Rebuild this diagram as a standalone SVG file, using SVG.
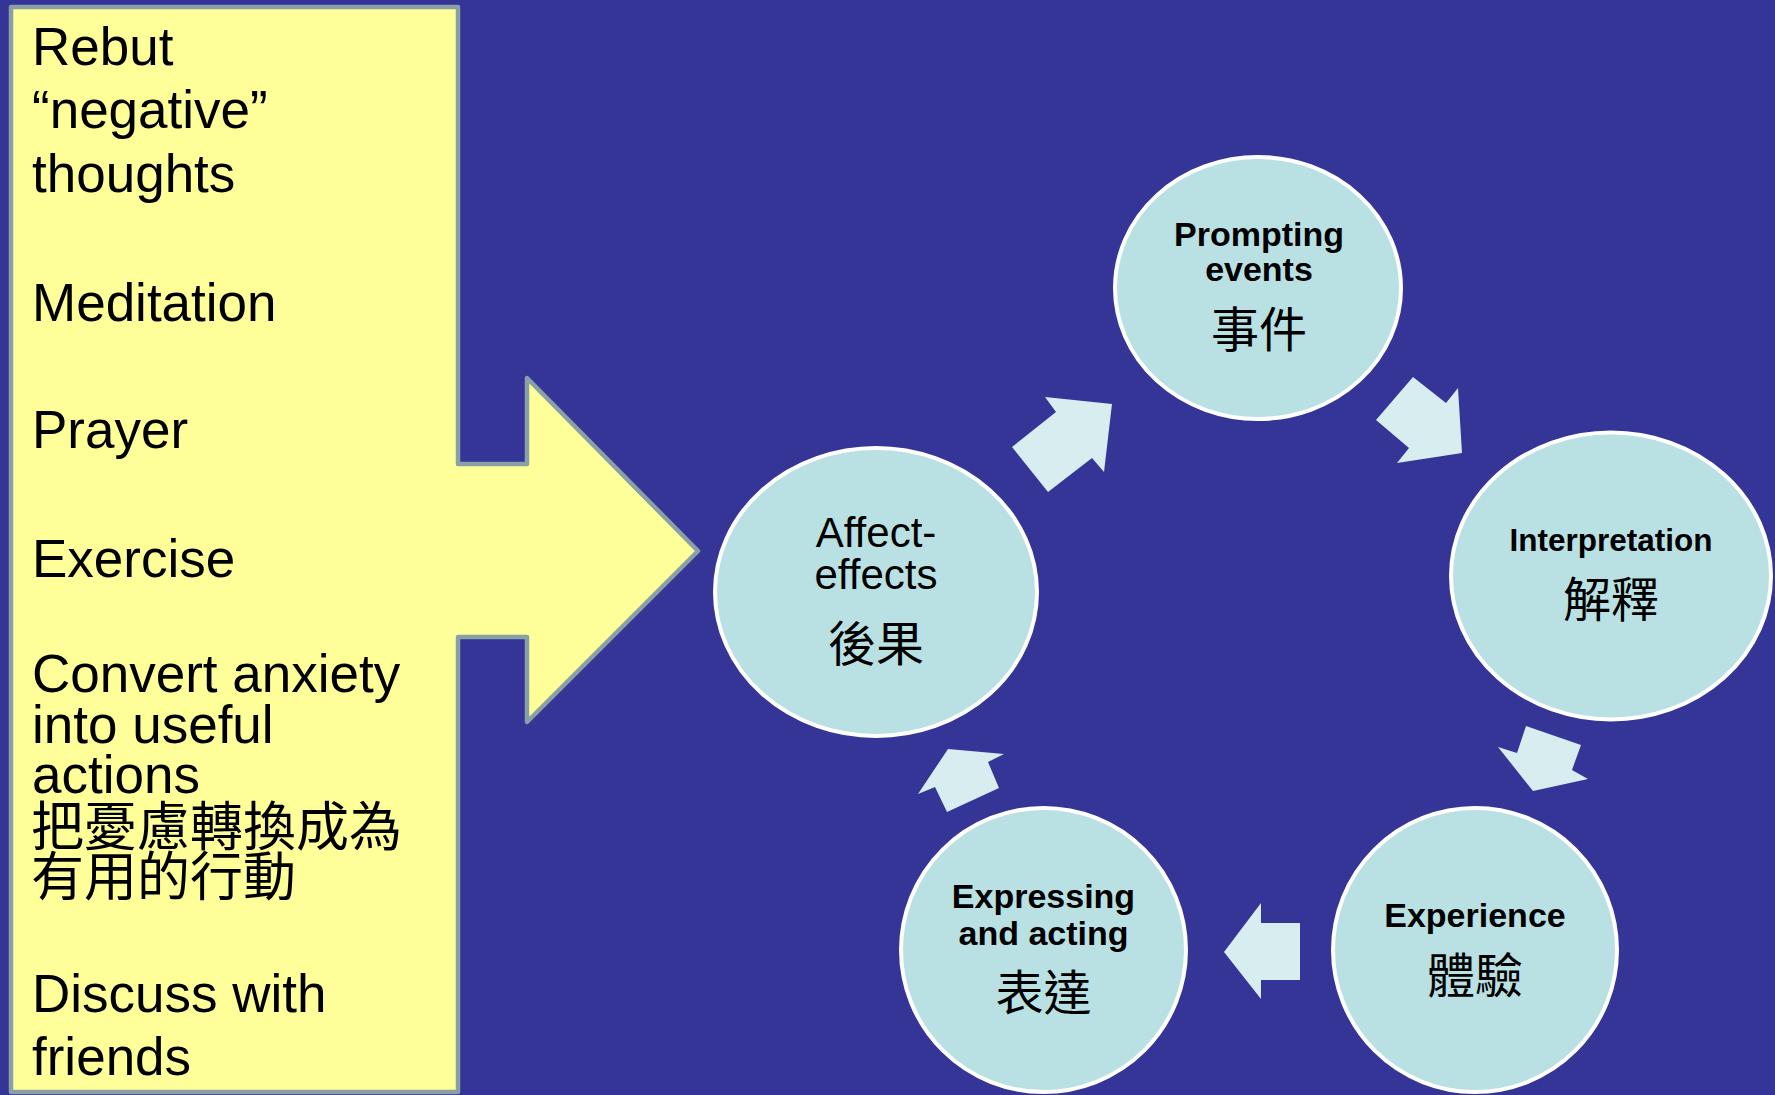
<svg xmlns="http://www.w3.org/2000/svg" width="1775" height="1095" viewBox="0 0 1775 1095">
  <style>
    .list { font-family: "Liberation Sans", Arial, sans-serif; font-size: 53px; fill: #000; }
    .cjk { font-family: "Liberation Sans", "Noto Sans CJK TC", sans-serif; font-size: 53px; }
    .node { fill: #B9E0E3; stroke: #FFFFFF; stroke-width: 4; }
    .lbl { font-family: "Liberation Sans", Arial, sans-serif; font-weight: bold; font-size: 34px; fill: #000; text-anchor: middle; }
    .lblr { font-family: "Liberation Sans", Arial, sans-serif; font-size: 42px; fill: #000; text-anchor: middle; }
    .zh { font-family: "Noto Sans CJK TC", "Noto Sans CJK SC", sans-serif; font-size: 48px; fill: #000; text-anchor: middle; }
    .flow { fill: #D8EDF0; stroke: none; }
  </style>
  <rect x="0" y="0" width="1775" height="1095" fill="#353598"/>

  <g id="strategies">
    <polygon points="11,7 458,7 458,464 527,464 527,378 698,551 527,722 527,637 458,637 458,1092 11,1092" fill="#FFFF99" stroke="#88A0A6" stroke-width="4.5" stroke-linejoin="round"/>
    <text class="list" x="32" y="65">Rebut</text>
    <text class="list" x="32" y="128">“negative”</text>
    <text class="list" x="32" y="192">thoughts</text>
    <text class="list" x="32" y="321">Meditation</text>
    <text class="list" x="32" y="448">Prayer</text>
    <text class="list" x="32" y="577">Exercise</text>
    <text class="list" x="32" y="692">Convert anxiety</text>
    <text class="list" x="32" y="743">into useful</text>
    <text class="list" x="32" y="793">actions</text>
    <text class="list cjk" x="31" y="846">把憂慮轉換成為</text>
    <text class="list cjk" x="31" y="896">有用的行動</text>
    <text class="list" x="32" y="1012">Discuss with</text>
    <text class="list" x="32" y="1075">friends</text>
  </g>

  <g id="connectors">
    <polygon class="flow" points="1045,397 1112,404 1104,472 1092,458 1048,492 1012,447 1056,412"/>
    <polygon class="flow" points="1413,377 1446,403 1458,388 1462,453 1397,463 1409,448 1376,420"/>
    <polygon class="flow" points="1526,726 1581,745 1572,770 1588,779 1533,791 1498,747 1517,753"/>
    <polygon class="flow" points="1300,923 1300,980 1261,980 1261,999 1224,952 1261,903 1261,923"/>
    <polygon class="flow" points="948,749 1004,754 988,762 999,788 947,812 935,787 918,794"/>
  </g>

  <g id="prompting">
    <ellipse class="node" cx="1258" cy="288" rx="143" ry="131"/>
    <text class="lbl" x="1259" y="246">Prompting</text>
    <text class="lbl" x="1259" y="281">events</text>
    <text class="zh" x="1259" y="347">事件</text>
  </g>

  <g id="interpretation">
    <ellipse class="node" cx="1611" cy="576" rx="160" ry="143.5"/>
    <text class="lbl" x="1611" y="551" style="font-size:31.5px">Interpretation</text>
    <text class="zh" x="1611" y="617">解釋</text>
  </g>

  <g id="experience">
    <ellipse class="node" cx="1475" cy="950" rx="142" ry="142"/>
    <text class="lbl" x="1475" y="927">Experience</text>
    <text class="zh" x="1475" y="993">體驗</text>
  </g>

  <g id="expressing">
    <ellipse class="node" cx="1043.5" cy="950" rx="142.5" ry="142"/>
    <text class="lbl" x="1043.5" y="908">Expressing</text>
    <text class="lbl" x="1043.5" y="945">and acting</text>
    <text class="zh" x="1043.5" y="1010">表達</text>
  </g>

  <g id="affect">
    <ellipse class="node" cx="876" cy="592" rx="161" ry="144"/>
    <text class="lblr" x="876" y="547">Affect-</text>
    <text class="lblr" x="876" y="589">effects</text>
    <text class="zh" x="876" y="661">後果</text>
  </g>
</svg>
